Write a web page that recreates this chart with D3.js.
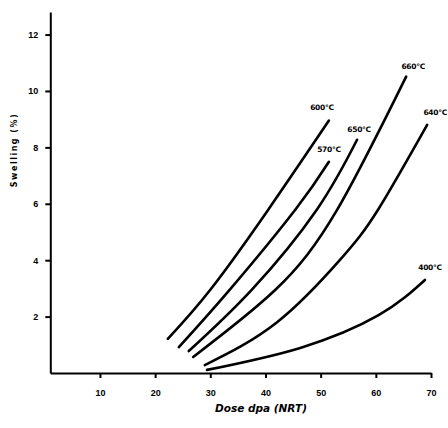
<!DOCTYPE html>
<html>
<head>
<meta charset="utf-8">
<script src="https://cdn.jsdelivr.net/npm/d3@7"></script>
<style>
  body { margin: 0; background: #fff; }
  svg { display: block; font-family: "DejaVu Sans", sans-serif; }
  .axis path, .axis line { stroke: #000; stroke-width: 2; }
  .axis text { font-size: 9px; font-weight: bold; fill: #000; }
  .curve { fill: none; stroke: #000; stroke-width: 2.6; stroke-linecap: round; }
  .lbl { font-size: 7.5px; font-weight: bold; letter-spacing: -0.3px; }
</style>
</head>
<body>
<script>
// swelling curves, [dose dpa, swelling %]
var xTicks = [10, 20, 30, 40, 50, 60, 70];
var yTicks = [2, 4, 6, 8, 10, 12];

var c600 = [[22.3, 1.21], [30.0, 2.95], [40.5, 5.79], [51.5, 8.95]];
var c570 = [[24.3, 0.92], [33.5, 2.95], [45.4, 5.79], [51.5, 7.49]];
var c650 = [[26.1, 0.78], [37.5, 2.95], [49.3, 5.79], [56.6, 8.27]];
var c660 = [[26.9, 0.57], [41.8, 2.95], [53.0, 5.79], [65.5, 10.51]];
var c640 = [[29.0, 0.28], [42.1, 1.80], [53.5, 4.01], [60.4, 5.79], [69.3, 8.80]];
var c400 = [[29.4, 0.11], [46.3, 0.89], [60.5, 2.05], [68.9, 3.30]];

var curveNames = ["600°C", "570°C", "650°C", "660°C", "640°C", "400°C"];
var curveData = [c600, c570, c650, c660, c640, c400];

var width = 448, height = 428;

var x = d3.scaleLinear().domain([1, 70]).range([50.3, 431]);
var y = d3.scaleLinear().domain([0, 12.8]).range([373, 12]);

var svg = d3.select("body").append("svg")
    .attr("width", width)
    .attr("height", height);

//x axis
svg.append("g")
    .attr("class", "axis")
    .attr("transform", "translate(0," + y(0) + ")")
    .call(d3.axisBottom(x).tickValues(xTicks).tickSize(5).tickSizeOuter(0).tickPadding(12));

//y axis
svg.append("g")
    .attr("class", "axis")
    .attr("transform", "translate(" + x(1) + ",0)")
    .call(d3.axisLeft(y).tickValues(yTicks).tickSize(5).tickSizeOuter(0).tickPadding(7));

//axis titles
svg.append("text")
    .attr("x", 261)
    .attr("y", 412)
    .attr("text-anchor", "middle")
    .style("font-size", "10.5px")
    .style("font-weight", "bold")
    .style("font-style", "italic")
    .text("Dose dpa (NRT)");

svg.append("text")
    .attr("transform", "translate(17,150) rotate(-90)")
    .attr("text-anchor", "middle")
    .style("font-size", "8px")
    .style("font-weight", "bold")
    .style("letter-spacing", "1.5px")
    .text("Swelling (%)");

var line = d3.line()
    .x(function(d) { return x(d[0]); })
    .y(function(d) { return y(d[1]); })
    .curve(d3.curveNatural);

svg.selectAll(".curve")
    .data(curveData)
    .enter().append("path")
    .attr("class", "curve")
    .attr("d", line);

//temperature labels sit just above each curve's last point
var lblShift = [[-7, -11], [0, -10], [2, -8], [7, -8], [8, -10], [5, -10]];
svg.selectAll(".lbl")
    .data(curveData)
    .enter().append("text")
    .attr("class", "lbl")
    .attr("text-anchor", "middle")
    .attr("x", function(d, i) { return x(d[d.length - 1][0]) + lblShift[i][0]; })
    .attr("y", function(d, i) { return y(d[d.length - 1][1]) + lblShift[i][1]; })
    .text(function(d, i) { return curveNames[i]; });
</script>
</body>
</html>
